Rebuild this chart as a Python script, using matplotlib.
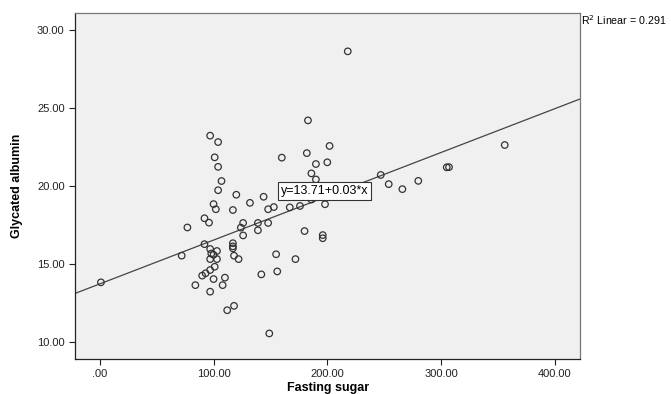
import matplotlib
matplotlib.use("Agg")
import matplotlib.pyplot as plt
from matplotlib.ticker import FuncFormatter

plt.rcParams['font.family'] = ['Liberation Sans', 'DejaVu Sans']

# fasting sugar (x) and glycated albumin (y)
fasting_sugar = [1, 218, 183, 97, 104, 202, 356, 182, 160, 101,
                 190, 200, 104, 305, 307, 186, 190, 247, 107, 280,
                 254, 266, 104, 120, 144, 132, 100, 198, 102, 117,
                 148, 153, 167, 176, 186, 170, 176, 203, 92, 96,
                 77, 126, 139, 148, 124, 139, 126, 92, 117, 117,
                 117, 97, 103, 98, 97, 103, 100, 118, 122, 101,
                 97, 93, 90, 100, 110, 84, 108, 97, 118, 112,
                 142, 155, 156, 149, 172, 180, 196, 196, 72]
glycated_albumin = [13.81, 28.63, 24.20, 23.22, 22.81, 22.56, 22.62, 22.10, 21.81, 21.83,
                    21.40, 21.51, 21.22, 21.19, 21.20, 20.80, 20.41, 20.70, 20.31, 20.32,
                    20.11, 19.79, 19.72, 19.43, 19.30, 18.91, 18.83, 18.82, 18.50, 18.45,
                    18.50, 18.64, 18.62, 18.71, 19.12, 19.30, 19.30, 19.30, 17.92, 17.64,
                    17.33, 17.62, 17.62, 17.62, 17.32, 17.15, 16.82, 16.26, 16.32, 16.12,
                    15.99, 15.95, 15.82, 15.66, 15.30, 15.30, 15.58, 15.52, 15.30, 14.81,
                    14.60, 14.39, 14.24, 14.02, 14.11, 13.63, 13.63, 13.21, 12.30, 12.02,
                    14.32, 15.61, 14.51, 10.53, 15.30, 17.10, 16.84, 16.64, 15.52]

# linear fit shown in the chart
fit_intercept = 13.71
fit_slope = 0.0281
r2_linear = 0.291

x_ticks = [0, 100, 200, 300, 400]
y_ticks = [10, 15, 20, 25, 30]
x_range = (-21.8, 422.6)
y_range = (8.89, 31.07)

fig = plt.figure(figsize=(6.71, 3.94), dpi=100)
ax = fig.add_axes([0.1118, 0.0888, 0.7533, 0.8774])
ax.set_facecolor('#f0f0f0')

ax.scatter(fasting_sugar, glycated_albumin, s=22, facecolors='none',
           edgecolors='#333333', linewidths=0.9, zorder=3)

ax.plot(x_range, [fit_intercept + fit_slope * v for v in x_range],
        color='#444444', lw=0.9, zorder=2)

ax.text(159, 19.68, 'y=%.2f+%.2f*x' % (fit_intercept, fit_slope), fontsize=9,
        va='center', ha='left', zorder=5,
        bbox=dict(facecolor='white', edgecolor='#333333', linewidth=0.8, pad=2.0))

ax.set_xlim(*x_range)
ax.set_ylim(*y_range)
ax.set_xticks(x_ticks)
ax.set_yticks(y_ticks)


def fmt(v, pos):
    s = '%.2f' % v
    return s[1:] if s.startswith('0.') else s


ax.xaxis.set_major_formatter(FuncFormatter(fmt))
ax.yaxis.set_major_formatter(FuncFormatter(fmt))
ax.tick_params(direction='out', length=4, width=0.8, labelsize=8, colors='#222222')

for side in ['left', 'bottom']:
    ax.spines[side].set_color('#222222')
    ax.spines[side].set_linewidth(0.9)
for side in ['top', 'right']:
    ax.spines[side].set_color('#777777')
    ax.spines[side].set_linewidth(0.9)

ax.set_xlabel('Fasting sugar', fontsize=9, fontweight='bold', labelpad=2)
ax.set_ylabel('Glycated albumin', fontsize=9, fontweight='bold', labelpad=10)

fig.text(0.866, 1 - 20 / 394, 'R$^2$ Linear = %.3f' % r2_linear, fontsize=7.7,
         va='center', ha='left')

fig.savefig('out.png', dpi=100)
